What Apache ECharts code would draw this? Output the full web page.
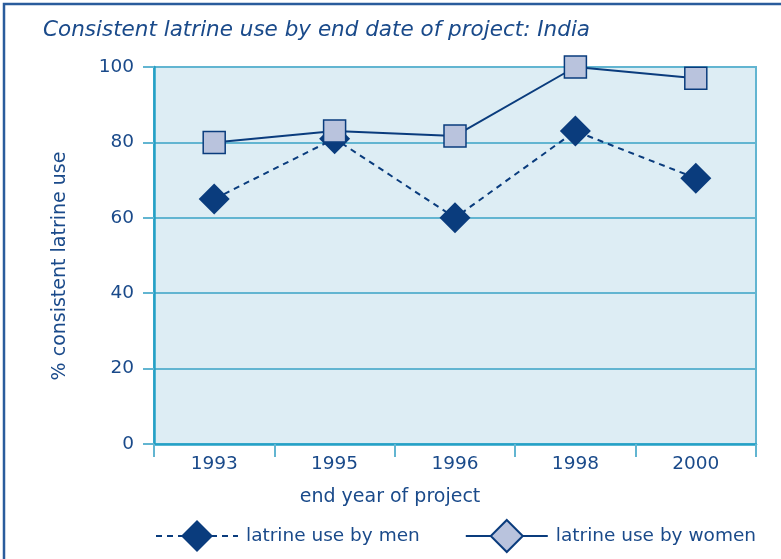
<!DOCTYPE html>
<html>
<head>
<meta charset="utf-8">
<script src="https://cdn.jsdelivr.net/npm/echarts@6/dist/echarts.min.js"></script>
<style>
  html, body { margin: 0; padding: 0; background: #fff; }
  #main { width: 781px; height: 559px; }
</style>
</head>
<body>
<div id="main"></div>
<script>
var myChart = echarts.init(document.getElementById('main'));

// data
const years = ['1993', '1995', '1996', '1998', '2000'];
const menUse = [65, 81, 60, 83, 70.5];
const womenUse = [80, 83, 81.7, 100, 97];

const textBlue = '#1a4a8a';
const navy = '#0a3c7d';
const gridBlue = '#62b5d1';
const axisBlue = '#24a1c6';
const font = 'DejaVu Sans';

option = {
    backgroundColor: '#fff',
    textStyle: { fontFamily: font },
    title: {
        text: 'Consistent latrine use by end date of project: India',
        left: 38,
        top: 14,
        textStyle: {
            fontFamily: font,
            fontStyle: 'italic',
            fontWeight: 'normal',
            fontSize: 21.5,
            color: textBlue
        }
    },
    graphic: [{
        type: 'rect',
        shape: { x: 4, y: 4, width: 900, height: 700 },
        style: { fill: 'none', stroke: '#2a5c9c', lineWidth: 2.5 },
        silent: true
    }],
    grid: {
        left: 154,
        right: 25,
        top: 67,
        bottom: 115,
        show: true,
        backgroundColor: '#ddedf4',
        borderColor: gridBlue,
        borderWidth: 2
    },
    legend: {
        left: 155,
        top: 519,
        padding: 0,
        itemWidth: 82,
        itemHeight: 40,
        itemGap: 45,
        data: ['latrine use by men', 'latrine use by women'],
        textStyle: { fontFamily: font, fontSize: 18.5, color: textBlue, padding: [0, 0, 0, 3] }
    },
    xAxis: {
        type: 'category',
        data: years,
        boundaryGap: true,
        name: 'end year of project',
        nameLocation: 'middle',
        nameGap: 44,
        nameTextStyle: { fontFamily: font, fontSize: 19, color: textBlue, padding: [0, 130, 0, 0] },
        axisLine: { lineStyle: { color: axisBlue, width: 2.5 } },
        axisTick: { show: true, length: 13, lineStyle: { color: gridBlue, width: 2 } },
        axisLabel: { margin: 11, fontSize: 18.5, color: textBlue, fontFamily: font },
        splitLine: { show: false }
    },
    yAxis: {
        type: 'value',
        min: 0,
        max: 100,
        interval: 20,
        name: '% consistent latrine use',
        nameLocation: 'middle',
        nameGap: 84,
        nameTextStyle: { fontFamily: font, fontSize: 19, color: textBlue, padding: [0, 21, 0, 0] },
        axisLine: { show: true, lineStyle: { color: axisBlue, width: 2.5 } },
        axisTick: { show: true, length: 11, lineStyle: { color: gridBlue, width: 2 } },
        axisLabel: { margin: 20, fontSize: 18.5, color: textBlue, fontFamily: font },
        splitLine: { show: true, lineStyle: { color: gridBlue, width: 2 } }
    },
    series: [{
        name: 'latrine use by men',
        type: 'line',
        data: menUse,
        symbol: 'diamond',
        symbolSize: 31,
        itemStyle: { color: navy, borderColor: navy, borderWidth: 0 },
        lineStyle: { color: navy, width: 2, type: [6, 5] },
        z: 3
    }, {
        // legend shows a diamond for women, so this empty series carries the legend icon
        name: 'latrine use by women',
        type: 'line',
        data: [],
        symbol: 'diamond',
        itemStyle: { color: '#b9c3dd', borderColor: navy, borderWidth: 1.5 },
        lineStyle: { color: navy, width: 2 }
    }, {
        name: 'latrine use by women',
        type: 'line',
        data: womenUse,
        symbol: 'rect',
        symbolSize: 22,
        itemStyle: { color: '#b9c3dd', borderColor: navy, borderWidth: 1.5 },
        lineStyle: { color: navy, width: 2 },
        z: 4
    }]
};

myChart.setOption(option);
</script>
</body>
</html>
